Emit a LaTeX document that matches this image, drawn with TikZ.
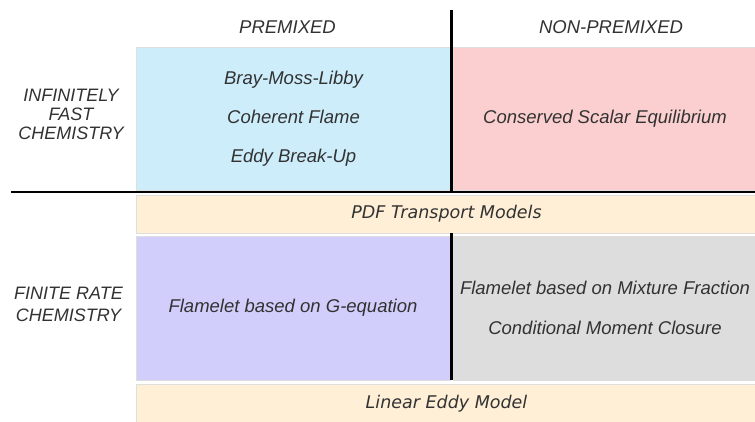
\documentclass[tikz,border=0pt]{standalone}
\usepackage{fontspec}
\setmainfont{Liberation Sans}
\newfontfamily\bandfont{DejaVu Sans}
\definecolor{premixblue}{RGB}{205,237,251}
\definecolor{nonpremixpink}{RGB}{251,207,207}
\definecolor{bandpeach}{RGB}{254,239,214}
\definecolor{premixpurple}{RGB}{210,206,251}
\definecolor{nonpremixgray}{RGB}{221,221,221}
\definecolor{txt}{RGB}{50,50,50}
\tikzset{
  cell/.style={draw=black!13,line width=0.8pt,inner sep=0pt,text=txt,align=center},
  band/.style={cell,fill=bandpeach,minimum width=621pt,font=\bandfont\itshape\fontsize{17.5}{20}\selectfont},
  head/.style={text=txt,align=center},
  divider/.style={line width=2.8pt,black}
}

\begin{document}
\begin{tikzpicture}[x=1pt,y=-1pt]
    \useasboundingbox (0,0) rectangle (755,421);
    \itshape\fontsize{18.5}{21}\selectfont
    \node[head] (pre) at (287.5,27) {PREMIXED};
    \node[head] (nonpre) at (611,27) {NON-PREMIXED};
    \node[head,font=\fontsize{18}{19}\selectfont\itshape] (inf) at (71,114) {INFINITELY\\FAST\\CHEMISTRY};
    \node[head,font=\fontsize{18}{22}\selectfont\itshape] (fin) at (68.5,304) {FINITE RATE\\CHEMISTRY};
    \node[cell,fill=premixblue,minimum width=315pt,minimum height=143pt,
          font=\fontsize{18.5}{39}\selectfont\itshape] (ifp) at (293.5,118.5)
          {Bray-Moss-Libby\\Coherent Flame\\Eddy Break-Up};
    \node[cell,fill=nonpremixpink,minimum width=304pt,minimum height=143pt] (ifn) at (605,118.5)
          {Conserved Scalar Equilibrium};
    \node[band,minimum height=38pt] (pdf) at (446.5,214) {PDF Transport Models};
    \node[cell,fill=premixpurple,minimum width=314pt,minimum height=144pt] (frp) at (293,308)
          {Flamelet based on G-equation};
    \node[cell,fill=nonpremixgray,minimum width=304pt,minimum height=144pt,
          font=\fontsize{18.5}{40}\selectfont\itshape] (frn) at (605,308)
          {Flamelet based on Mixture Fraction\\Conditional Moment Closure};
    \node[band,minimum height=39pt] (lem) at (446.5,403.5) {Linear Eddy Model};
    \coordinate (vtop) at (451.5,10);
    \coordinate (hleft) at (11,192);
    \coordinate (hright) at (757,192);
    \draw[divider] (vtop) -- (vtop |- hleft);
    \draw[divider] (hleft) -- (hright);
    \draw[divider] (pdf.south -| vtop) -- (frp.south -| vtop);
  \end{tikzpicture}
\end{document}
